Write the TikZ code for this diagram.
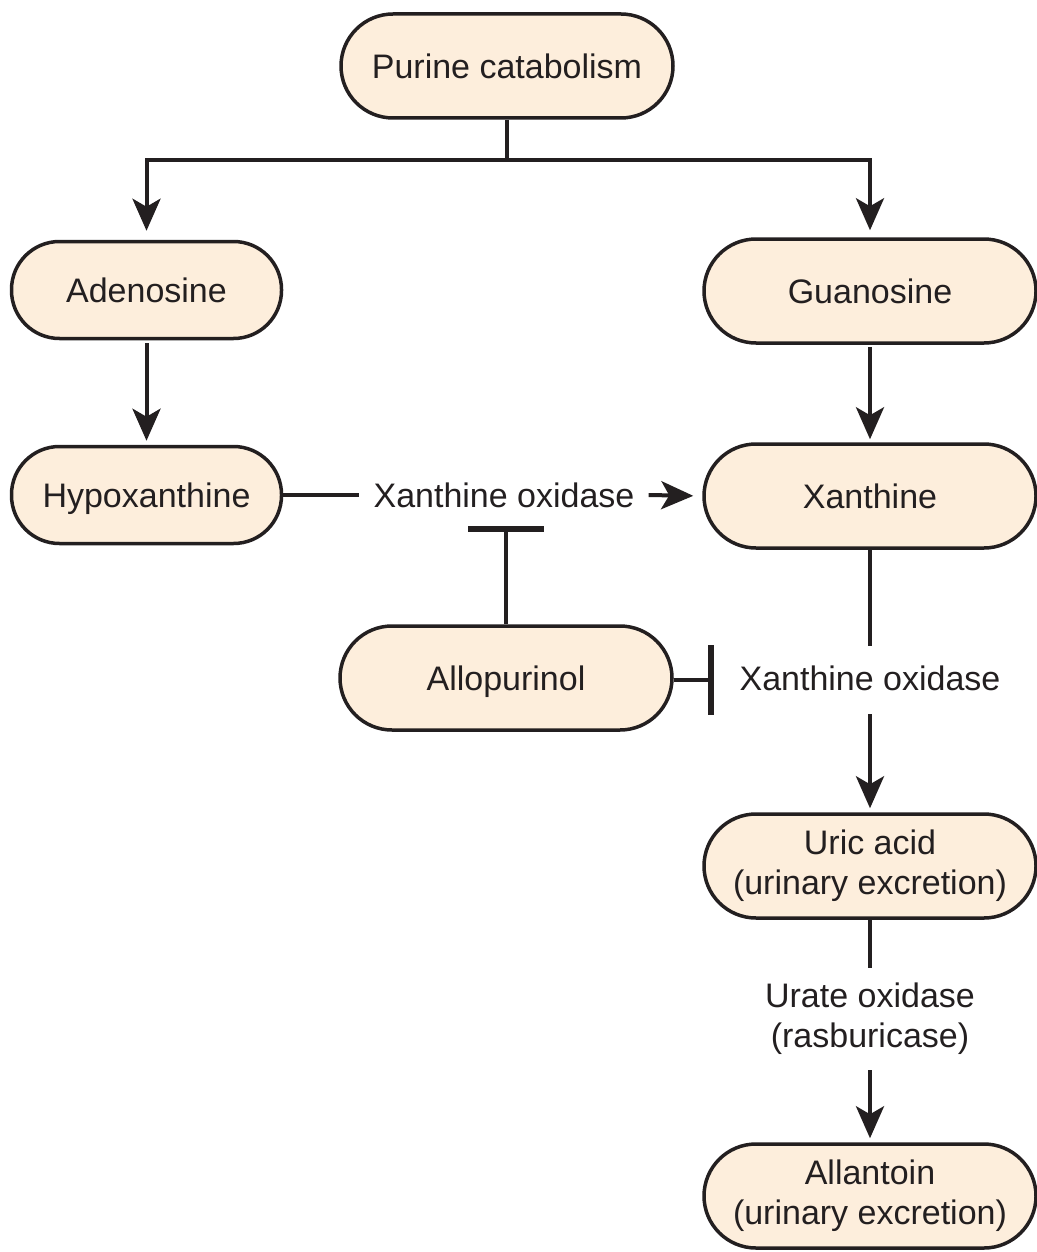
\documentclass[tikz,border=0pt]{standalone}
\usepackage{fontspec}
\setmainfont{Liberation Sans}
\usetikzlibrary{arrows.meta}
\definecolor{boxfill}{RGB}{253,238,220}
\definecolor{ink}{RGB}{35,31,32}
\begin{document}
\begin{tikzpicture}[x=1pt,y=-1pt,
  every node/.style={font=\fontsize{34}{40}\selectfont, text=ink},
  box/.style={draw=ink, line width=3.5pt, fill=boxfill, rounded corners=52pt,
    minimum height=104pt, minimum width=332pt, inner sep=0pt, align=center},
  smallbox/.style={box, rounded corners=48pt, minimum height=97pt, minimum width=270pt},
  oneline/.style={text height=24.5pt, text depth=0pt},
  lbl/.style={inner xsep=14pt, inner ysep=0pt, text height=24.5pt, text depth=0pt},
  conn/.style={draw=ink, line width=4pt},
  arr/.style={conn, -{Stealth[length=32pt,width=28pt,inset=8pt]}},
  inhib/.style={conn, -{Bar[width=76pt,line width=6pt]}},
]
\useasboundingbox (0,0) rectangle (1036,1252);

\node[box, oneline] (purine) at (507,66) {Purine catabolism};
\node[smallbox, oneline] (aden) at (146.5,290) {Adenosine};
\node[box, oneline] (guan) at (870,291) {Guanosine};
\node[smallbox, oneline] (hypo) at (146.5,495) {Hypoxanthine};
\node[box, oneline] (xan) at (870,496) {Xanthine};
\node[box, oneline] (allo) at (506,678) {Allopurinol};
\node[box] (uric) at (870,866) {Uric acid\\(urinary excretion)};
\node[box] (allan) at (870,1196) {Allantoin\\(urinary excretion)};

\node[lbl] (xo1) at (504,495) {Xanthine oxidase};
\node[lbl, inner xsep=0pt, inner ysep=20pt] (xo2) at (870,678) {Xanthine oxidase};
\node[inner sep=0pt, inner ysep=15pt, align=center] (urate) at (870,1019) {Urate oxidase\\(rasburicase)};

\coordinate (split) at (507,160);
\coordinate (inh1) at (506,526);
\coordinate (inh2) at (714,680);

\draw[conn] (purine.south) -- (split);
\draw[arr, shorten >=9pt] (split) -| (aden.north);
\draw[arr, shorten >=7pt] (split) -| (guan.north);
\draw[arr, shorten <=3pt, shorten >=4pt] (aden.south) -- (hypo.north);
\draw[arr, shorten <=2pt, shorten >=3pt] (guan.south) -- (xan.north);
\draw[conn] (hypo.east) -- (xo1.west);
\draw[arr, shorten >=9pt] (xo1.east) -- (xan.west);
\draw[inhib] (allo.north) -- (inh1);
\draw[conn] (xan.south) -- (xo2.north);
\draw[arr, shorten <=4pt, shorten >=4pt] (xo2.south) -- (uric.north);
\draw[inhib, -{Bar[width=70pt,line width=6pt]}] (allo.east |- inh2) -- (inh2);
\draw[conn] (uric.south) -- (urate.north);
\draw[arr, shorten >=4pt] (urate.south) -- (allan.north);
\end{tikzpicture}
\end{document}
